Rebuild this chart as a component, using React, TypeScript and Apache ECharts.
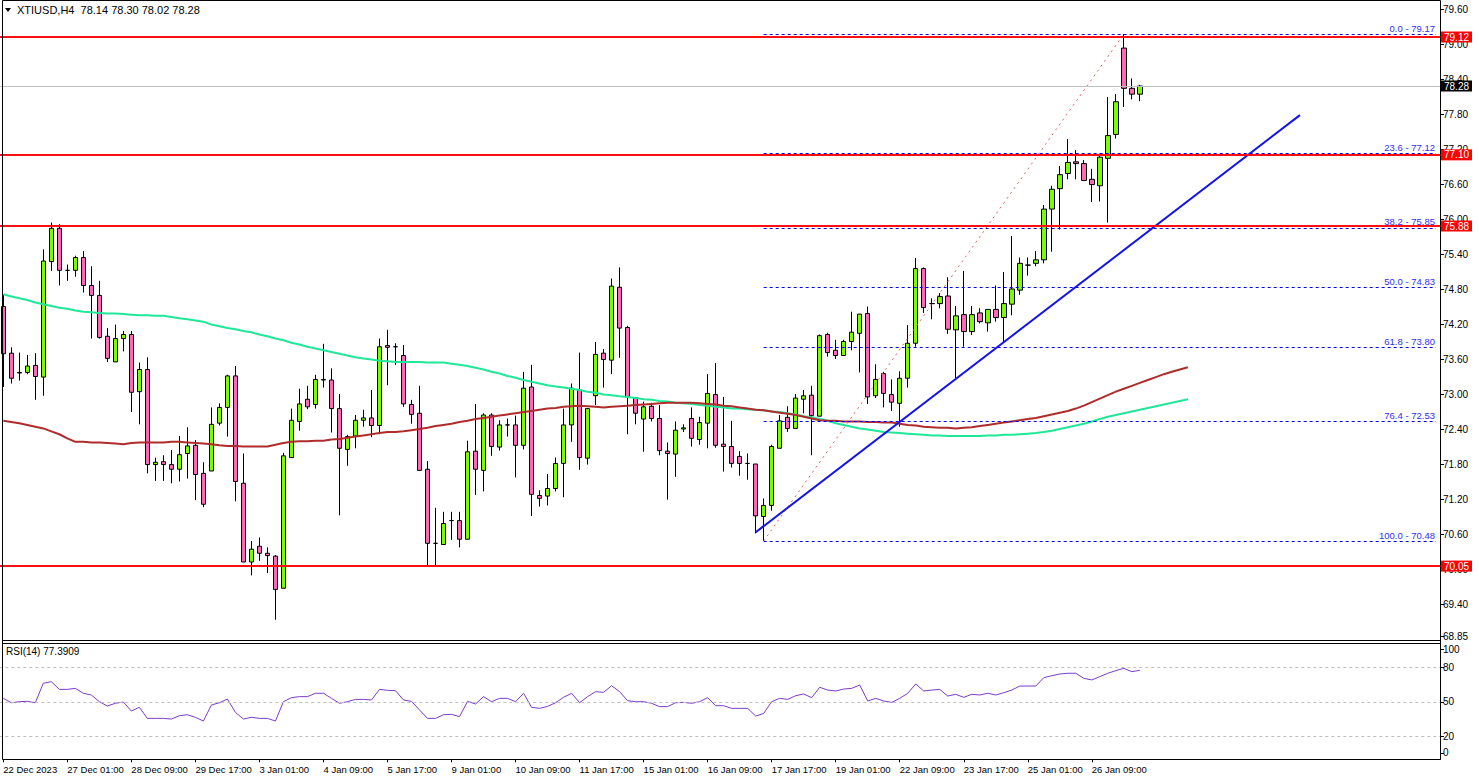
import React, { useEffect, useRef } from 'react';
import * as echarts from 'echarts';

// ---- time axis ----
const tradingDays = ['22 Dec', '26 Dec', '27 Dec', '28 Dec', '29 Dec', '2 Jan', '3 Jan', '4 Jan', '5 Jan', '8 Jan', '9 Jan', '10 Jan', '11 Jan', '12 Jan', '15 Jan', '16 Jan', '17 Jan', '18 Jan', '19 Jan', '22 Jan', '23 Jan', '24 Jan', '25 Jan', '26 Jan', '29 Jan'];
const barHours = ['01:00', '05:00', '09:00', '13:00', '17:00', '21:00'];
const timeTickLabels = ['22 Dec 2023', '27 Dec 01:00', '28 Dec 09:00', '29 Dec 17:00', '3 Jan 01:00', '4 Jan 09:00', '5 Jan 17:00', '9 Jan 01:00', '10 Jan 09:00', '11 Jan 17:00', '15 Jan 01:00', '16 Jan 09:00', '17 Jan 17:00', '19 Jan 01:00', '22 Jan 09:00', '23 Jan 17:00', '25 Jan 01:00', '26 Jan 09:00'];
const TICK_STEP = 8;
const TOTAL_SLOTS = 180;

// ---- OHLC (XTIUSD H4) ----
const opens = [74.50,73.70,73.36,73.37,73.49,73.29,75.27,75.84,75.12,75.12, 75.34,74.86,74.69,73.99,73.55,73.95,74.02,73.04,73.42,71.79, 71.84,71.79,71.71,71.98,72.12,71.64,71.68,72.50,72.77,73.31, 71.47,70.12,70.39,70.27,70.22,69.67,71.91,72.53,72.91,72.82, 73.24,73.24,72.75,72.05,72.28,72.55,72.59,72.46,73.83,73.81, 73.66,72.82,72.67,71.71,70.44,70.42,70.83,70.83,70.51,72.02, 71.69,72.64,72.09,72.47,72.47,72.12,73.12,71.26,71.25,71.38, 71.81,72.47,73.07,71.90,72.97,73.70,73.58,74.83,74.14,72.94, 72.57,72.79,72.58,72.02,71.97,72.40,72.58,72.22,72.50,72.99, 72.14,72.10,71.93,71.81,71.80,70.90,71.09,72.07,72.60,72.41, 72.91,72.98,72.62,74.02,73.75,73.66,73.90,74.04,74.38,72.97, 73.35,72.99,72.84,73.27,73.87,75.15,74.55,74.55,74.68,74.10, 74.36,74.07,74.39,74.22,74.45,74.31,74.54,74.78,75.21,75.24, 75.30,76.17,76.52,76.78,76.98,76.95,76.68,76.57,77.04,77.45, 78.93,78.24,78.14];
const highs = [74.70,73.80,73.71,73.67,73.70,75.48,75.94,75.91,75.22,75.37, 75.45,75.19,74.94,74.13,74.19,74.08,74.08,73.54,73.63,71.91, 71.95,72.04,72.28,72.43,72.21,71.83,72.77,72.84,73.33,73.48, 71.98,70.48,70.54,70.37,70.24,71.99,72.75,73.09,73.14,73.33, 73.86,73.44,73.00,72.30,72.64,72.73,73.07,73.95,74.10,73.87, 73.84,72.90,73.14,71.85,71.05,70.98,70.98,70.98,72.20,72.83, 72.67,72.67,72.55,72.58,72.63,73.38,73.50,71.35,71.63,71.91, 72.75,73.18,73.71,72.75,73.89,73.77,74.98,75.17,74.17,72.95, 72.87,72.85,72.81,72.17,72.53,72.48,72.77,72.61,73.34,73.53, 72.95,72.54,72.02,71.98,71.80,71.21,72.13,72.64,72.79,73.00, 73.07,73.14,74.02,74.05,73.93,73.93,74.41,74.37,74.50,73.51, 73.38,73.25,73.39,74.18,75.33,75.17,74.64,74.73,75.00,74.51, 75.11,74.51,74.47,74.45,74.86,75.09,75.71,75.34,75.34,75.45, 76.24,76.57,76.91,77.37,77.18,77.01,76.86,77.12,78.09,78.14, 79.17,78.41,78.30];
const lows = [73.12,73.18,73.23,73.34,72.90,72.97,75.11,74.86,74.94,75.01, 74.74,73.95,73.95,73.55,73.55,73.73,72.69,72.48,71.64,71.51, 71.51,71.47,71.50,71.55,71.18,71.06,71.68,72.46,72.27,71.16, 70.12,69.89,70.14,69.93,69.13,69.67,71.91,72.37,72.74,72.75, 73.11,72.34,70.92,71.77,72.07,72.44,72.26,72.31,73.15,73.50, 72.78,72.49,71.69,70.05,70.05,70.42,70.50,70.37,70.51,71.27, 71.33,71.94,72.03,72.27,71.57,72.05,70.91,71.07,71.09,71.33, 71.23,72.18,71.70,71.79,72.81,73.11,73.34,73.62,72.31,72.48, 72.01,72.53,71.95,71.19,71.58,72.35,72.10,72.13,72.07,72.08, 71.67,71.74,71.60,71.53,70.61,70.48,71.00,72.07,72.35,72.41, 72.67,71.95,72.62,73.64,73.60,73.66,73.75,73.37,72.83,72.93, 72.77,72.71,72.44,73.11,73.81,74.39,74.28,74.47,74.03,73.27, 73.81,74.01,74.21,74.07,74.24,73.88,74.35,74.70,75.03,75.19, 75.24,75.44,75.82,76.68,76.68,76.66,76.29,76.30,75.94,77.38, 77.92,78.05,78.02];
const closes = [73.69,73.27,73.37,73.48,73.30,75.28,75.84,75.12,75.12,75.34, 74.86,74.69,73.97,73.61,73.95,74.02,73.03,73.42,71.79,71.83, 71.79,71.71,71.96,72.11,71.62,71.11,72.48,72.77,73.31,71.50, 70.12,70.34,70.27,70.23,69.65,71.94,72.55,72.83,72.78,73.25, 73.25,72.75,72.07,72.27,72.55,72.59,72.46,73.81,73.80,73.81, 72.83,72.65,71.69,70.44,70.44,70.78,70.83,70.51,72.01,71.71, 72.64,72.10,72.47,72.47,72.12,73.10,71.28,71.21,71.38,71.81, 72.47,73.10,71.91,72.75,73.68,73.59,74.85,74.13,72.95,72.67, 72.78,72.58,72.03,71.98,72.38,72.42,72.24,72.51,73.01,72.12, 72.10,71.81,71.81,71.81,70.91,71.09,72.10,72.54,72.41,72.93, 72.97,72.63,74.00,73.71,73.66,73.90,74.06,74.37,72.95,73.25, 73.01,72.86,73.27,73.87,75.15,74.48,74.55,74.67,74.11,74.34, 74.07,74.36,74.24,74.45,74.31,74.55,74.80,75.24,75.21,75.30, 76.17,76.51,76.76,76.97,76.95,76.66,76.59,77.06,77.43,78.01, 78.24,78.14,78.28];

// ---- moving averages (shifted forward) ----
const greenMA = [74.71,74.67,74.64,74.61,74.57,74.54,74.51,74.48,74.46,74.43, 74.41,74.40,74.39,74.38,74.38,74.37,74.36,74.35,74.35,74.34, 74.34,74.32,74.30,74.28,74.26,74.24,74.19,74.16,74.13,74.11, 74.08,74.06,74.02,73.99,73.95,73.92,73.88,73.85,73.81,73.78, 73.75,73.72,73.69,73.66,73.63,73.61,73.59,73.57,73.56,73.55, 73.55,73.55,73.55,73.54,73.54,73.54,73.52,73.50,73.48,73.45, 73.42,73.38,73.35,73.31,73.28,73.24,73.21,73.18,73.15,73.13, 73.11,73.09,73.07,73.04,73.02,72.99,72.98,72.96,72.95,72.93, 72.91,72.90,72.88,72.87,72.85,72.84,72.83,72.81,72.80,72.78, 72.77,72.75,72.75,72.74,72.73,72.72,72.70,72.69,72.67,72.65, 72.62,72.60,72.57,72.54,72.50,72.47,72.44,72.41,72.39,72.37, 72.35,72.34,72.33,72.32,72.31,72.30,72.29,72.29,72.28,72.28, 72.28,72.28,72.28,72.29,72.29,72.30,72.30,72.31,72.32,72.33, 72.35,72.37,72.40,72.43,72.46,72.49,72.53,72.57,72.61,72.64, 72.67,72.70,72.73,72.76,72.79,72.82,72.85,72.88,72.91];
const brownMA = [72.54,72.52,72.50,72.47,72.44,72.41,72.36,72.31,72.24,72.18, 72.18,72.17,72.17,72.16,72.15,72.14,72.16,72.17,72.17,72.17, 72.17,72.18,72.18,72.17,72.16,72.15,72.14,72.12,72.11,72.11, 72.10,72.10,72.10,72.10,72.13,72.16,72.18,72.19,72.19,72.20, 72.20,72.22,72.23,72.25,72.27,72.29,72.31,72.33,72.35,72.35, 72.36,72.38,72.40,72.42,72.45,72.47,72.49,72.52,72.54,72.57, 72.59,72.61,72.63,72.65,72.67,72.69,72.71,72.73,72.75,72.76, 72.78,72.79,72.80,72.79,72.78,72.77,72.78,72.79,72.80,72.81, 72.82,72.83,72.84,72.85,72.85,72.85,72.85,72.84,72.83,72.82, 72.80,72.79,72.77,72.75,72.73,72.72,72.70,72.68,72.66,72.64, 72.61,72.58,72.55,72.54,72.54,72.53,72.53,72.53,72.52,72.52, 72.51,72.51,72.49,72.47,72.46,72.44,72.43,72.42,72.42,72.41, 72.42,72.43,72.45,72.47,72.49,72.51,72.53,72.55,72.57,72.59, 72.62,72.65,72.68,72.71,72.75,72.80,72.86,72.92,72.98,73.04, 73.09,73.14,73.19,73.24,73.29,73.34,73.38,73.42,73.46];

// ---- RSI(14) ----
const rsi = [53.0,49.2,50.1,50.4,49.2,66.1,67.5,60.8,60.8,61.7, 57.4,55.9,50.1,46.3,48.7,49.8,42.0,45.2,35.6,35.6, 35.6,35.0,37.9,38.8,36.5,33.3,47.2,49.2,52.4,40.8, 35.0,36.5,35.6,35.6,33.3,50.1,53.6,54.5,54.5,57.4, 57.4,53.0,48.7,50.1,52.1,52.1,51.6,60.8,60.0,59.7, 51.6,50.4,42.9,35.6,35.6,38.8,39.1,37.1,50.4,48.1, 54.5,50.1,53.0,53.0,50.1,57.4,45.2,44.3,46.0,49.2, 53.9,57.4,49.2,54.5,58.8,58.2,64.0,58.8,51.0,50.1, 50.1,48.7,45.8,45.8,49.2,49.5,48.7,50.1,53.6,46.6, 46.6,44.3,44.3,44.3,37.6,39.9,50.1,53.0,52.1,55.3, 56.8,53.6,62.6,60.2,59.4,61.1,61.7,64.6,50.7,53.0, 50.7,49.5,53.0,57.4,65.5,59.4,60.2,60.8,55.0,56.5, 53.9,56.5,55.9,57.4,55.9,57.9,60.2,63.7,63.7,63.7, 71.0,72.7,74.2,74.8,74.8,70.4,69.0,71.9,74.8,77.1, 79.1,76.2,77.39];
const rsiLevels = [20, 50, 80];
const rsiAxisTicks = [5.5, 20, 50, 80, 95.9];

// ---- price axis ----
const priceTicks = [68.85, 69.4, 70.0, 70.6, 71.2, 71.8, 72.4, 73.0, 73.6, 74.2, 74.8, 75.4, 76.0, 76.6, 77.2, 77.8, 78.4, 79.0, 79.6];
const priceMin = 68.7829;
const priceMax = 79.72;

// ---- drawn levels ----
const redLevels = [79.12, 77.10, 75.88, 70.05];
const currentPrice = 78.28;
const fibRatios = ['0.0', '23.6', '38.2', '50.0', '61.8', '76.4', '100.0'];
const fibPrices = [79.17, 77.12, 75.85, 74.83, 73.80, 72.53, 70.48];
const fibStartBar = 95;
const fibTopBar = 140;
const trendStart = { bar: 94, price: 70.63 };
const trendEnd = { bar: 162, price: 77.78 };

const header = 'XTIUSD,H4  78.14 78.30 78.02 78.28';
const rsiTitle = 'RSI(14) 77.3909';

const FONT = '"Liberation Sans", Arial, sans-serif';

function buildCategories(): string[] {
  const cats: string[] = [];
  tradingDays.forEach((d, di) => {
    barHours.forEach((h, hi) => {
      if (di === 0 && hi < 4) return;
      if (di === tradingDays.length - 1 && hi > 2) return;
      cats.push(d + ' ' + h);
    });
  });
  let k = 1;
  while (cats.length < TOTAL_SLOTS) cats.push('next ' + k++);
  return cats;
}

export default function App() {
  const ref = useRef<HTMLDivElement>(null);
  useEffect(() => {
    if (!ref.current) return;
    const chart = echarts.init(ref.current, null, { renderer: 'svg' });
    const cats = buildCategories();
    const candles = opens.map((o, i) => [o, closes[i], lows[i], highs[i]]);
    const tickShown = (i: number) => i % TICK_STEP === 0 && i / TICK_STEP < timeTickLabels.length;

    const hLines: any[] = redLevels.map((v) => ({
      yAxis: v,
      lineStyle: { color: '#ff1010', width: 2, type: 'solid' },
      label: {
        show: true, position: 'end', distance: 1, formatter: v.toFixed(2),
        backgroundColor: '#ff0000', color: '#ffffff', padding: [1, 3, 0, 3], fontSize: 10, fontFamily: FONT,
      },
    }));
    hLines.push({
      yAxis: currentPrice,
      lineStyle: { color: '#c0c0c0', width: 1, type: 'solid' },
      label: {
        show: true, position: 'end', distance: 1, formatter: currentPrice.toFixed(2),
        backgroundColor: '#000000', color: '#ffffff', padding: [1, 3, 0, 3], fontSize: 10, fontFamily: FONT,
      },
    });

    const fibLines: any[] = fibPrices.map((p, i) => [
      {
        coord: [cats[fibStartBar], p],
        lineStyle: { color: '#0000ff', width: 1, type: [3, 3] },
        label: {
          show: true, position: 'insideEndTop', distance: 1,
          formatter: fibRatios[i] + ' - ' + p.toFixed(2),
          color: '#3030f0', fontSize: 9.5, fontFamily: FONT,
        },
      },
      { coord: [cats[TOTAL_SLOTS - 1], p] },
    ]);

    const option: any = {
      animation: false,
      backgroundColor: '#ffffff',
      textStyle: { fontFamily: FONT },
      grid: [
        { left: -0.7, top: 2, width: 1440.7, height: 638, outerBoundsMode: 'none', containLabel: false },
        { left: -0.7, top: 644.3, width: 1440.7, height: 115, outerBoundsMode: 'none', containLabel: false },
      ],
      xAxis: [
        {
          type: 'category', gridIndex: 0, data: cats, boundaryGap: true,
          axisLine: { show: false }, axisTick: { show: false }, axisLabel: { show: false }, splitLine: { show: false },
        },
        {
          type: 'category', gridIndex: 1, data: cats, boundaryGap: true,
          axisLine: { show: false },
          axisTick: { show: true, alignWithLabel: true, interval: (i: number) => tickShown(i), length: 3, lineStyle: { color: '#000' } },
          axisLabel: {
            show: true, interval: (i: number) => tickShown(i), align: 'left', margin: 5,
            formatter: (_v: string, i: number) => timeTickLabels[Math.round(i / TICK_STEP)] || '',
            fontSize: 9.5, color: '#000', fontFamily: FONT,
          },
          splitLine: { show: false },
        },
      ],
      yAxis: [
        {
          type: 'value', gridIndex: 0, position: 'right', min: priceMin, max: priceMax,
          splitLine: { show: false },
          axisLine: { show: true, lineStyle: { color: '#000' } },
          axisTick: { show: true, length: 4, customValues: priceTicks, lineStyle: { color: '#000' } },
          axisLabel: { show: true, customValues: priceTicks, margin: 3, fontSize: 10, color: '#000', fontFamily: FONT, formatter: (v: number) => v.toFixed(2) },
        },
        {
          type: 'value', gridIndex: 1, position: 'right', min: 0, max: 100,
          splitLine: { show: false },
          axisLine: { show: true, lineStyle: { color: '#000' } },
          axisTick: { show: true, length: 4, customValues: rsiAxisTicks, lineStyle: { color: '#000' } },
          axisLabel: {
            show: true, customValues: rsiAxisTicks, margin: 3, fontSize: 10, color: '#000', fontFamily: FONT,
            formatter: (v: number) => (v > 90 ? '100' : v < 10 ? '0' : String(Math.round(v))),
          },
        },
      ],
      series: [
        {
          type: 'line', xAxisIndex: 0, yAxisIndex: 0, data: [], silent: true, z: 1,
          markLine: { silent: true, symbol: ['none', 'none'], animation: false, data: fibLines },
        },
        {
          type: 'candlestick', xAxisIndex: 0, yAxisIndex: 0, data: candles, barWidth: 5, z: 3,
          itemStyle: {
            color: '#7CFC00', color0: '#FF69B4', borderColor: '#000', borderColor0: '#000', borderColorDoji: '#000', borderWidth: 1,
          },
          emphasis: { disabled: true },
        },
        {
          type: 'line', xAxisIndex: 0, yAxisIndex: 0, data: greenMA, showSymbol: false, symbol: 'none', silent: true, z: 4,
          lineStyle: { color: '#1fe899', width: 2 },
        },
        {
          type: 'line', xAxisIndex: 0, yAxisIndex: 0, data: brownMA, showSymbol: false, symbol: 'none', silent: true, z: 4,
          lineStyle: { color: '#b02c2c', width: 2 },
        },
        {
          type: 'line', xAxisIndex: 0, yAxisIndex: 0, data: [], silent: true, z: 5,
          markLine: {
            silent: true, symbol: ['none', 'none'], animation: false,
            data: [
              [
                { coord: [cats[fibStartBar], fibPrices[6]], lineStyle: { color: '#e06060', width: 1, type: [2, 4] }, label: { show: false } },
                { coord: [cats[fibTopBar], fibPrices[0]] },
              ],
              [
                { coord: [cats[trendStart.bar], trendStart.price], lineStyle: { color: '#1414e6', width: 2, type: 'solid' }, label: { show: false } },
                { coord: [cats[trendEnd.bar], trendEnd.price] },
              ],
            ],
          },
        },
        {
          type: 'line', xAxisIndex: 0, yAxisIndex: 0, data: [], silent: true, z: 6,
          markLine: { silent: true, symbol: ['none', 'none'], animation: false, data: hLines },
        },
        {
          type: 'line', xAxisIndex: 1, yAxisIndex: 1, data: rsi, showSymbol: false, symbol: 'none', silent: true, z: 4,
          lineStyle: { color: '#7b3cc8', width: 1 },
          markLine: {
            silent: true, symbol: ['none', 'none'], animation: false, label: { show: false },
            lineStyle: { color: '#c0c0c0', width: 1, type: [3, 3] },
            data: rsiLevels.map((v) => ({ yAxis: v })),
          },
        },
      ],
      graphic: [
        { type: 'line', z: 100, shape: { x1: 2.5, y1: 0.5, x2: 1440.5, y2: 0.5 }, style: { stroke: '#000', lineWidth: 1 } },
        { type: 'line', z: 100, shape: { x1: 2.5, y1: 0.5, x2: 2.5, y2: 759.5 }, style: { stroke: '#000', lineWidth: 1 } },
        { type: 'line', z: 100, shape: { x1: 2.5, y1: 640.5, x2: 1440.5, y2: 640.5 }, style: { stroke: '#000', lineWidth: 1 } },
        { type: 'line', z: 100, shape: { x1: 2.5, y1: 643.5, x2: 1440.5, y2: 643.5 }, style: { stroke: '#000', lineWidth: 1 } },
        { type: 'line', z: 100, shape: { x1: 2.5, y1: 759.5, x2: 1440.5, y2: 759.5 }, style: { stroke: '#000', lineWidth: 1 } },
        { type: 'line', z: 100, shape: { x1: 1440.5, y1: 0.5, x2: 1440.5, y2: 759.5 }, style: { stroke: '#000', lineWidth: 1 } },
        { type: 'polygon', z: 100, shape: { points: [[5, 8], [11, 8], [8, 12]] }, style: { fill: '#000' } },
        { type: 'text', z: 100, x: 17, y: 10, style: { text: header, fill: '#000', fontSize: 11, fontFamily: FONT, verticalAlign: 'middle' } },
        { type: 'text', z: 100, x: 6, y: 651, style: { text: rsiTitle, fill: '#000', fontSize: 10, fontFamily: FONT, verticalAlign: 'middle' } },
      ],
    };
    chart.setOption(option);
    return () => chart.dispose();
  }, []);
  return <div ref={ref} style={{ position: 'absolute', left: 0, top: 0, width: 1479, height: 781, background: '#fff' }} />;
}
